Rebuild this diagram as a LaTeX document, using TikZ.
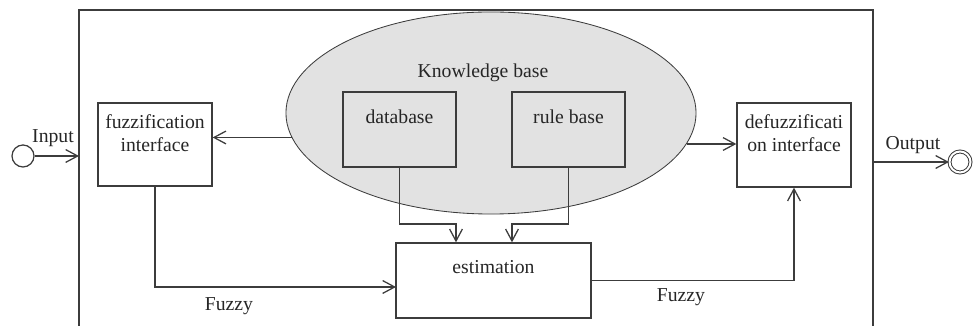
\documentclass[tikz,border=0pt]{standalone}
\usepackage{fontspec}
\setmainfont{Liberation Serif}
\usetikzlibrary{arrows.meta,shapes.geometric}
\definecolor{linec}{HTML}{3C3C3C}
\definecolor{kbfill}{HTML}{E2E2E2}
\begin{document}
\begin{tikzpicture}[x=0.025cm, y=-0.025cm,
    line/.style={draw=linec, line width=0.9pt},
    blk/.style={line, rectangle, inner sep=0pt},
    txt/.style={font=\fontsize{14}{16.7}\selectfont, text=black!85, inner sep=0pt},
    arr/.style={line, -{Straight Barb[length=0.3cm, width=0.32cm]}}]
    \useasboundingbox (0,0) rectangle (976,326);
    % frame, open at the bottom
    \draw[line] (79,326) -- (79,10) -- (873,10) -- (873,326);
    % knowledge base
    \node[ellipse, draw=linec, line width=0.6pt, fill=kbfill, inner sep=0pt,
        minimum width=10.25cm, minimum height=5.05cm] (kb) at (491,113) {};
        \node[txt, anchor=base] (kbtxt) at (483,78) {Knowledge base};
    \node[blk, minimum width=2.825cm, minimum height=1.875cm] (db) at (399.5,129.5) {};
        \node[txt, anchor=base] (dbtxt) at (399.5,124) {database};
    \node[blk, minimum width=2.825cm, minimum height=1.875cm] (rb) at (568.5,129.5) {};
        \node[txt, anchor=base] (rbtxt) at (568.5,124) {rule base};
    % interfaces
    \node[blk, minimum width=2.85cm, minimum height=2.075cm] (fuzz) at (155,144.5) {};
        \node[txt, align=center] (fuzztxt) at (155,133) {fuzzification\\interface};
    \node[blk, minimum width=2.85cm, minimum height=2.1cm] (defuzz) at (794,145) {};
        \node[txt, align=center] (defuzztxt) at (794,133) {defuzzificati\\on interface};
    % estimation
    \node[blk, minimum width=4.875cm, minimum height=1.875cm] (est) at (493.5,280.5) {};
        \node[txt, anchor=base] (esttxt) at (493.5,274) {estimation};
    % input and output
    \node[circle, line, inner sep=0pt, minimum size=0.55cm] (in) at (23,156) {};
        \node[txt, anchor=base] (intxt) at (53,143) {Input};
    \node[circle, line, line width=0.7pt, double, double distance=1.4pt, inner sep=0pt,
        minimum size=0.525cm] (out) at (960,162) {};
        \node[txt, anchor=base] (outtxt) at (913,150) {Output};
    \coordinate (inF) at (79,156);
    \coordinate (outF) at (873,162);
    \coordinate (j1) at (456,224);
    \coordinate (j2) at (512,224);
    \coordinate (j3) at (396,287);
    % connectors
    \draw[arr] (in) -- (inF);
    \draw[arr] (kb.187) -- (kb.187 -| fuzz.east);
    \draw[arr] (kb.-9) -- (kb.-9 -| defuzz.west);
    \draw[arr] (db.south) |- (j1) -- (j1 |- est.north);
    \draw[arr] (rb.south) |- (j2) -- (j2 |- est.north);
    \draw[arr] (fuzz.south) |- (j3);
    \draw[arr] (est.east) -| (defuzz.south);
    \draw[arr] (outF) -- (out);
        \node[txt, anchor=base] (fz1) at (229,311) {Fuzzy};
        \node[txt, anchor=base] (fz2) at (681,302) {Fuzzy};
\end{tikzpicture}
\end{document}
